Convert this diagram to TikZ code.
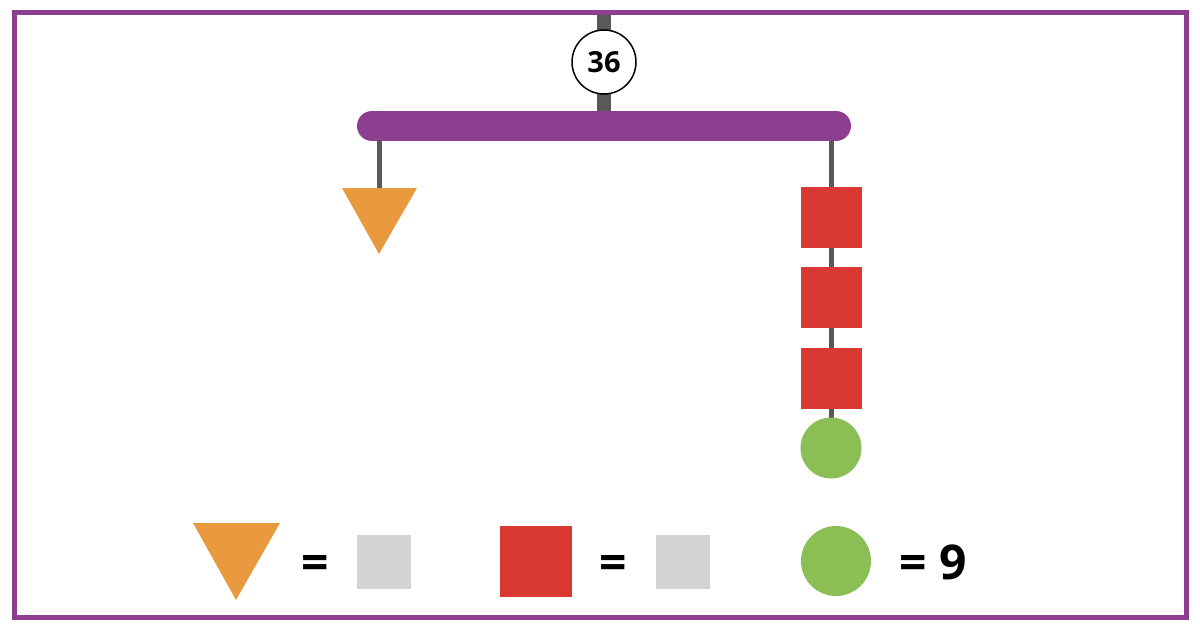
\documentclass[tikz,border=0pt]{standalone}
\usepackage{fontspec}
\setmainfont{Open Sans}
\definecolor{mpurple}{RGB}{142,62,142}
\definecolor{mrod}{RGB}{88,89,91}
\definecolor{morange}{RGB}{233,154,62}
\definecolor{mred}{RGB}{218,56,50}
\definecolor{mgreen}{RGB}{139,191,85}
\definecolor{mlgray}{RGB}{209,211,212}
\begin{document}
\begin{tikzpicture}[x=1pt,y=-1pt,
  rod/.style={draw=mrod,line width=14pt},
  string/.style={draw=mrod,line width=5pt},
  redsq/.style={fill=mred,draw=none},
  greenc/.style={fill=mgreen,draw=none},
  orangetri/.style={fill=morange,draw=none},
  graysq/.style={fill=mlgray,draw=none},
  eqtext/.style={font=\bfseries\fontsize{48}{52}\selectfont,inner sep=0pt,anchor=base}]
\useasboundingbox (0,0) rectangle (1200,629);
\fill[white] (0,0) rectangle (1200,629);
% rod from top
\coordinate (top) at (604,12);
\coordinate (barc) at (604,112);
\draw[rod] (top) -- (barc);
\node[circle,draw=black,line width=1.5pt,fill=white,minimum size=64pt,inner sep=0pt,
  font=\bfseries\fontsize{29}{32}\selectfont] (val) at (604,62) {36};
% bar
\draw[mpurple,line width=30pt,line cap=round] (372,126) coordinate (barl) -- (836,126) coordinate (barr);
% left string and triangle
\coordinate (ls) at (379,141);
\coordinate (tri) at (379,188);
\draw[string] (ls) -- (tri);
\fill[orangetri] (342,188) -- (417,188) -- (379,254) -- cycle;
% right string
\coordinate (rs) at (831,141);
\coordinate (re) at (831,425);
\draw[string] (rs) -- (re);
\node[redsq,minimum width=61pt,minimum height=61pt,inner sep=0pt] (s1) at (831.5,217.5) {};
\node[redsq,minimum width=61pt,minimum height=61pt,inner sep=0pt] (s2) at (831.5,297.5) {};
\node[redsq,minimum width=61pt,minimum height=61pt,inner sep=0pt] (s3) at (831.5,378.5) {};
\node[greenc,circle,minimum size=61pt,inner sep=0pt] (g) at (831,448) {};
% legend
\fill[orangetri] (193,523) -- (280,523) -- (236,600) -- cycle;
\node[eqtext] (e1) at (315,579) {=};
\node[graysq,minimum width=54pt,minimum height=54pt,inner sep=0pt] (q1) at (384,562) {};
\node[redsq,minimum width=72pt,minimum height=71pt,inner sep=0pt] (lr) at (536,561.5) {};
\node[eqtext] (e2) at (613,579) {=};
\node[graysq,minimum width=54pt,minimum height=54pt,inner sep=0pt] (q2) at (683,562) {};
\node[greenc,circle,minimum size=70pt,inner sep=0pt] (lg) at (836,561) {};
\node[eqtext] (e3) at (913,579) {=};
\node[eqtext] (nine) at (953,579) {9};
% border
\draw[mpurple,line width=5pt] (14,12) rectangle (1186,617);
\end{tikzpicture}
\end{document}
